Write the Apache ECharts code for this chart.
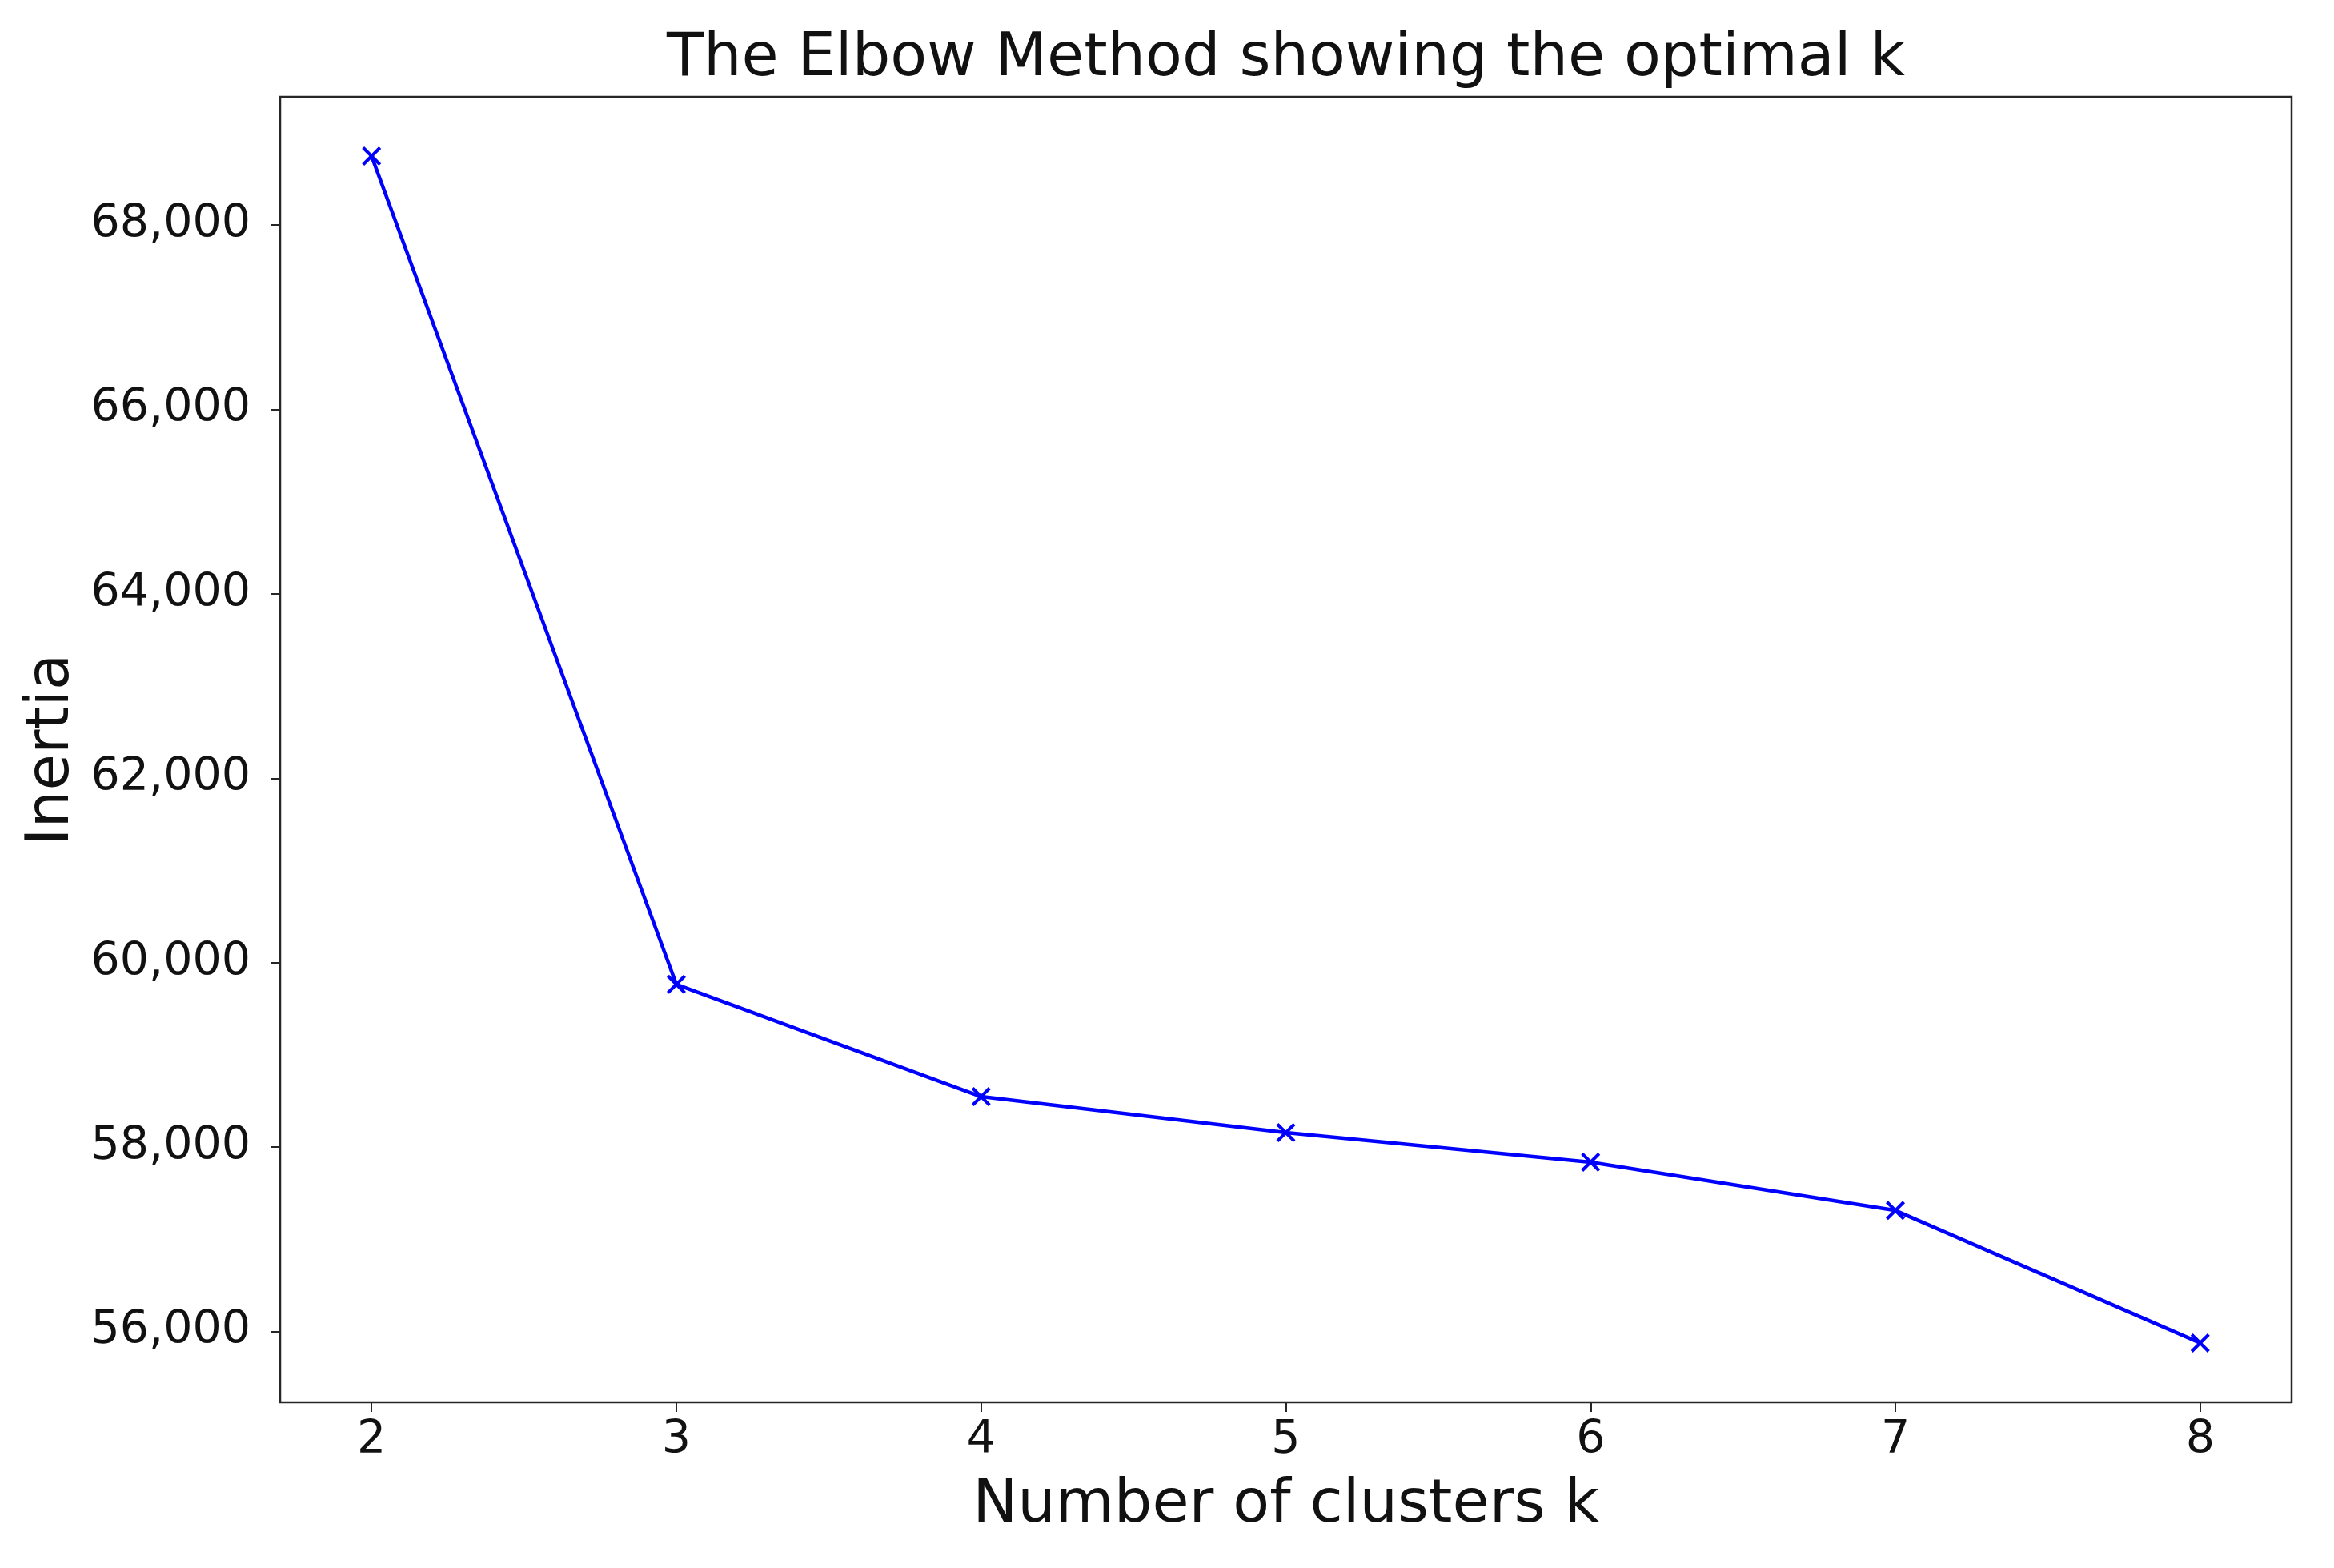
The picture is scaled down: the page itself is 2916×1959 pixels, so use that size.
<!DOCTYPE html>
<html>
<head>
<meta charset="utf-8">
<script src="https://cdn.jsdelivr.net/npm/echarts@6/dist/echarts.min.js"></script>
<style>
	html, body { margin: 0; padding: 0; background: #fff; }
	#chart { width: 2916px; height: 1959px; }
</style>
</head>
<body>
<div id="chart"></div>
<script>
// Number of clusters tried and the resulting inertia.
const clusterCounts = [ 2, 3, 4, 5, 6, 7, 8 ];
const inertiaValues = [ 68745, 59765, 58548, 58157, 57837, 57313, 55876 ];
const xTicks = [ 2, 3, 4, 5, 6, 7, 8 ];
const yTicks = [ 56000, 58000, 60000, 62000, 64000, 66000, 68000 ];

const font = 'DejaVu Sans';
const ink = '#111';
const spine = '#262626';

const plotLeft = 350;
const plotRight = 53;
const plotTop = 121;
const plotBottom = 207;
const width = 2916;

// x mark drawn as a filled cross outline.
const crossSymbol = 'path://M0,1.2L1.2,0L5,3.8L8.8,0L10,1.2L6.2,5L10,8.8L8.8,10L5,6.2L1.2,10L0,8.8L3.8,5Z';

const formatThousands = ( value ) => Number( value ).toLocaleString( 'en-US' );

const chart = echarts.init( document.getElementById( 'chart' ), null, { renderer: 'canvas' } );

chart.setOption( {
	animation: false,
	backgroundColor: '#ffffff',
	title: {
		text: 'The Elbow Method showing the optimal k',
		// centred over the plot area, not the page
		left: ( plotLeft + width - plotRight ) / 2,
		textAlign: 'center',
		top: 37,
		padding: 0,
		textStyle: { fontFamily: font, fontSize: 75, fontWeight: 'normal', color: ink }
	},
	grid: {
		left: plotLeft,
		right: plotRight,
		top: plotTop,
		bottom: plotBottom,
		containLabel: false,
		outerBoundsMode: 'none',
		show: true,
		borderColor: spine,
		borderWidth: 2.5,
		backgroundColor: 'transparent'
	},
	xAxis: {
		type: 'value',
		min: 1.7,
		max: 8.3,
		name: 'Number of clusters k',
		nameLocation: 'middle',
		nameGap: 92,
		nameTextStyle: { fontFamily: font, fontSize: 75, color: ink },
		splitLine: { show: false },
		axisLine: { show: false },
		axisTick: {
			show: true,
			length: 12,
			lineStyle: { color: spine, width: 2 },
			customValues: xTicks
		},
		axisLabel: {
			fontFamily: font,
			fontSize: 57,
			color: ink,
			margin: 20,
			customValues: xTicks
		}
	},
	yAxis: {
		type: 'value',
		min: 55233,
		max: 69388,
		name: 'Inertia',
		nameLocation: 'middle',
		nameGap: 247,
		nameRotate: 90,
		nameTextStyle: { fontFamily: font, fontSize: 74, color: ink },
		splitLine: { show: false },
		axisLine: { show: false },
		axisTick: {
			show: true,
			length: 12,
			lineStyle: { color: spine, width: 2 },
			customValues: yTicks
		},
		axisLabel: {
			fontFamily: font,
			fontSize: 57,
			color: ink,
			margin: 37,
			formatter: formatThousands,
			customValues: yTicks
		}
	},
	series: [ {
		type: 'line',
		data: clusterCounts.map( ( k, i ) => [ k, inertiaValues[ i ] ] ),
		symbol: crossSymbol,
		symbolSize: 24,
		showAllSymbol: true,
		lineStyle: { color: '#0000ff', width: 4.5 },
		itemStyle: { color: '#0000ff' }
	} ]
} );
</script>
</body>
</html>
